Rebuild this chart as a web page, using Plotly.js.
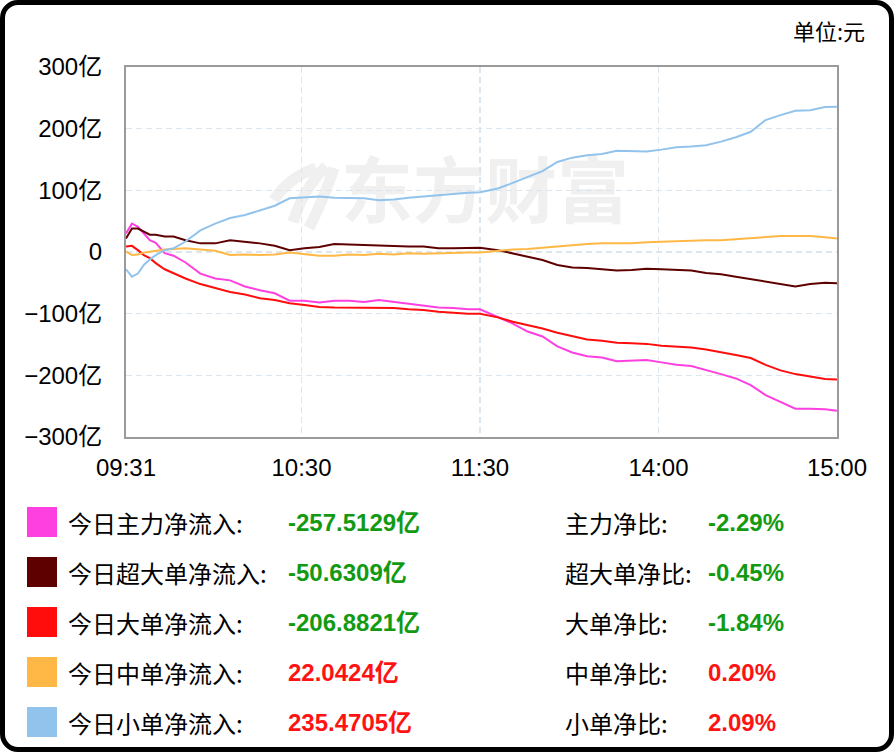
<!DOCTYPE html>
<html>
<head>
<meta charset="utf-8">
<script src="https://cdn.plot.ly/plotly-3.0.1.min.js"></script>
<style>
  html, body { margin: 0; padding: 0; background: #fff; }
  #wrap { position: relative; width: 894px; height: 752px; overflow: hidden; }
  #chart { position: absolute; left: 0; top: 0; width: 894px; height: 752px; }
  #frame { position: absolute; left: 0; top: 0; width: 894px; height: 752px; box-sizing: border-box;
           border: 5px solid #000; border-radius: 18px; pointer-events: none; }
</style>
</head>
<body>
<div id="wrap"><div id="chart"></div><div id="frame"></div></div>
<script>
// minute index within trading day (0 = 09:31, 59 = 10:30, 119 = 11:30, 179 = 14:00, 239 = 15:00)
const minuteIdx = [0,2,4,6,8,10,13,16,20,25,30,35,40,45,50,55,60,65,70,75,80,85,90,95,100,105,110,115,119,
  125,130,135,140,145,150,155,160,165,170,175,180,185,190,195,200,205,210,215,220,225,230,235,239];

const tickVals = [0, 59, 119, 179, 239];
const tickLabels = ["09:31", "10:30", "11:30", "14:00", "15:00"];
const yTickVals = [300, 200, 100, 0, -100, -200, -300];
const yTickLabels = ["300亿", "200亿", "100亿", "0", "\u2212100亿", "\u2212200亿", "\u2212300亿"];

// values in 亿元
const mainFlow = [30,46,41,30,19,15,-2,-6,-17,-35,-43,-46,-56,-62,-67,-79,-79,-82,-79,-79,-81,-78,-81,-83,-86,-90,-91,-93,-93,
  -105,-116,-129,-137,-153,-163,-169,-171,-177,-176,-175,-179,-183,-185,-191,-198,-205,-216,-232,-243,-254,-254,-255,-257.5129];
const superFlow = [22,38,38,33,28,28,25,25,19,14,14,19,17,14,10,3,6,8,13,12,11,10,10,9,9,6,6,6,7,
  3,-2,-8,-13,-21,-25,-26,-28,-30,-29,-27,-28,-29,-30,-34,-36,-40,-44,-49,-52,-56,-52,-50,-50.6309];
const largeFlow = [9,10,3,-5,-10,-18,-28,-35,-43,-52,-58,-65,-69,-75,-78,-83,-86,-89,-90,-90,-91,-90,-91,-93,-94,-97,-99,-100,-100,
  -106,-113,-118,-124,-131,-136,-142,-144,-147,-148,-149,-152,-153,-155,-158,-162,-167,-172,-183,-192,-198,-202,-206,-206.8821];
const mediumFlow = [0.5,-5,-4,-1,0.5,2,4,5,6,4,2,-5,-4,-5,-4,-1,-3,-6,-6,-4,-5,-3,-4,-2,-3,-2,-1,-1,-1,
  2,4,5,7,10,11,13,14,14,14,16,17,17,18,19,19,21,23,25,26,26,26,24,22.0424];
const smallFlow = [-28,-40,-35,-21,-12,-5,3,6,17,35,46,55,60,68,75,87,89,90,88,87,87,84,85,88,90,92,95,96,97,
  103,112,122,131,146,153,157,159,164,164,163,166,170,171,173,179,186,195,214,222,229,230,235,235.4705];

const seriesNames = ["今日主力净流入", "今日超大单净流入", "今日大单净流入", "今日中单净流入", "今日小单净流入"];
const seriesTotals = ["-257.5129亿", "-50.6309亿", "-206.8821亿", "22.0424亿", "235.4705亿"];
const ratioNames = ["主力净比", "超大单净比", "大单净比", "中单净比", "小单净比"];
const ratioValues = ["-2.29%", "-0.45%", "-1.84%", "0.20%", "2.09%"];
const unitLabel = "单位:元";
const watermark = "东方财富";

const seriesData = [mainFlow, superFlow, largeFlow, mediumFlow, smallFlow];
const colors = ["#ff40e0", "#5e0000", "#ff0d0d", "#ffb845", "#92c3ec"];
const GREEN = "#139a13", RED = "#ff1212";

// plot area in pixels
const L = 126, R = 837, T = 67, B = 437;
const xp = px => (px - L) / (R - L);
const yp = py => (B - py) / (B - T);

const traces = seriesData.map((d, i) => ({
  type: "scatter", mode: "lines", x: minuteIdx, y: d, name: seriesNames[i],
  line: { color: colors[i], width: 2 }, hoverinfo: "skip"
}));

const cjk = "Noto Sans CJK SC, sans-serif";
const num = "Liberation Sans, Arial, Noto Sans CJK SC, sans-serif";

const annotations = [];
const shapes = [];

// unit label
annotations.push({ xref: "paper", yref: "paper", x: xp(867), y: yp(30), xanchor: "right", yanchor: "middle",
  text: unitLabel, showarrow: false, font: { family: cjk, size: 22, color: "#000" } });

const rowY = [522, 572, 622, 672, 722];
rowY.forEach((py, i) => {
  shapes.push({ type: "rect", xref: "paper", yref: "paper", x0: xp(27), x1: xp(57), y0: yp(py + 15), y1: yp(py - 15),
    fillcolor: colors[i], line: { width: 0 } });
  const valColor = seriesTotals[i].startsWith("-") ? GREEN : RED;
  annotations.push({ xref: "paper", yref: "paper", x: xp(66), y: yp(py), xanchor: "left", yanchor: "middle",
    text: seriesNames[i] + ":", showarrow: false, font: { family: cjk, size: 24, color: "#000" } });
  annotations.push({ xref: "paper", yref: "paper", x: xp(286), y: yp(py), xanchor: "left", yanchor: "middle",
    text: "<b>" + seriesTotals[i] + "</b>", showarrow: false, font: { family: num, size: 24, color: valColor } });
  annotations.push({ xref: "paper", yref: "paper", x: xp(563), y: yp(py), xanchor: "left", yanchor: "middle",
    text: ratioNames[i] + ":", showarrow: false, font: { family: cjk, size: 24, color: "#000" } });
  annotations.push({ xref: "paper", yref: "paper", x: xp(706), y: yp(py), xanchor: "left", yanchor: "middle",
    text: "<b>" + ratioValues[i] + "</b>", showarrow: false, font: { family: num, size: 24, color: valColor } });
});

// watermark text (below traces)
shapes.push({ type: "rect", xref: "paper", yref: "paper", layer: "below",
  x0: xp(335), x1: xp(635), y0: yp(234), y1: yp(160), line: { width: 0 }, fillcolor: "rgba(0,0,0,0)",
  label: { text: watermark, textposition: "middle center", font: { family: cjk, size: 72, color: "#f0f0f0", weight: "bold" } } });
// watermark logo (rough strokes)
function pathPx(pts) {
  return pts.map((p, k) => (k === 0 ? "M" : (p.length === 4 ? "Q" : "L")) +
    (p.length === 4 ? xp(p[0]) + "," + yp(p[1]) + " " + xp(p[2]) + "," + yp(p[3]) : xp(p[0]) + "," + yp(p[1]))).join(" ");
}
[[[274, 200], [288, 178, 316, 168]], [[293, 222], [303, 190, 326, 166]], [[309, 228], [325, 196, 334, 168]]].forEach(p => {
  shapes.push({ type: "path", xref: "paper", yref: "paper", layer: "below", path: pathPx(p),
    line: { color: "#f0f0f0", width: 11 } });
});

const layout = {
  width: 894, height: 752,
  margin: { l: L, r: 894 - R, t: T, b: 752 - B, pad: 0 },
  paper_bgcolor: "#fff", plot_bgcolor: "#fff",
  showlegend: false,
  xaxis: {
    range: [0, 239], tickvals: tickVals, ticktext: tickLabels,
    showline: true, mirror: true, linecolor: "#9a9a9a", linewidth: 2,
    showgrid: true, gridcolor: "#dce6ef", griddash: "6px,4px", gridwidth: 1.5, zeroline: false,
    ticks: "outside", ticklen: 8, tickcolor: "rgba(0,0,0,0)",
    tickfont: { family: num, size: 24, color: "#000" }, fixedrange: true
  },
  yaxis: {
    range: [-300, 300], tickvals: yTickVals, ticktext: yTickLabels,
    showline: true, mirror: true, linecolor: "#9a9a9a", linewidth: 2,
    showgrid: true, gridcolor: "#dce6ef", griddash: "6px,4px", gridwidth: 1.5, zeroline: false,
    ticks: "outside", ticklen: 17, tickcolor: "rgba(0,0,0,0)",
    tickfont: { family: num, size: 24, color: "#000" }, fixedrange: true
  },
  annotations: annotations,
  shapes: shapes
};

Plotly.newPlot("chart", traces, layout, { displayModeBar: false, staticPlot: true });
</script>
</body>
</html>
